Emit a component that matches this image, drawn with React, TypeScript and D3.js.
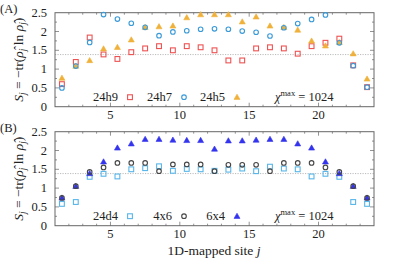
import React from 'react';
import * as d3 from "d3";

// sites sit at half-integer positions along the 1D map
const siteX = [1.5, 2.5, 3.5, 4.5, 5.5, 6.5, 7.5, 8.5, 9.5, 10.5, 11.5, 12.5, 13.5, 14.5, 15.5, 16.5, 17.5, 18.5, 19.5, 20.5, 21.5, 22.5, 23.5];

// panel A
const h9 = [0.60, 1.19, 1.84, 1.39, 1.27, 1.45, 1.55, 1.61, 1.50, 1.61, 1.58, 1.50, 1.23, 1.23, 1.55, 1.58, 1.55, 1.41, 1.61, 1.70, 1.81, 1.10, 0.52];
const h7 = [0.50, 1.08, 1.71, 2.45, 2.33, 2.22, 2.11, 1.89, 1.99, 2.02, 2.06, 2.07, 2.06, 2.01, 1.98, 1.88, 2.10, 2.21, 2.32, 2.44, 1.70, 1.09, 0.52];
const h5 = [0.76, 1.08, 1.23, 1.54, 1.58, 1.78, 2.11, 2.13, 2.15, 2.37, 2.45, 2.45, 2.45, 2.26, 2.39, 2.15, 2.11, 2.04, 1.75, 1.62, 1.71, 1.41, 0.74];

// panel B
const d4 = [0.58, 0.63, 1.30, 1.38, 1.31, 1.50, 1.53, 1.58, 1.46, 1.51, 1.50, 1.46, 1.49, 1.52, 1.45, 1.57, 1.52, 1.50, 1.31, 1.38, 1.30, 0.63, 0.58];
const g4x6 = [0.74, 1.05, 1.43, 1.55, 1.67, 1.67, 1.67, 1.45, 1.63, 1.63, 1.63, 1.45, 1.62, 1.62, 1.62, 1.45, 1.67, 1.67, 1.67, 1.55, 1.43, 1.05, 0.74];
const g6x4 = [0.74, 1.05, 1.39, 1.70, 2.07, 2.18, 2.30, 2.30, 2.28, 2.27, 2.27, 2.04, 2.26, 2.26, 2.28, 2.30, 2.30, 2.18, 2.07, 1.70, 1.39, 1.05, 0.74];

const xTicks = [5, 10, 15, 20];
const yTicks = [0, 0.5, 1, 1.5, 2, 2.5];
const refLine = Math.log(4);

const font = "'Liberation Serif', 'DejaVu Serif', serif";

type Shape = "square" | "circle" | "triangle";
interface Series { label: string; values: number[]; shape: Shape; color: string; filled: boolean }

const seriesA: Series[] = [
    { label: "24h9", values: h9, shape: "square", color: "#ee5252", filled: false },
    { label: "24h7", values: h7, shape: "circle", color: "#3a9ad8", filled: false },
    { label: "24h5", values: h5, shape: "triangle", color: "#f0b13a", filled: true },
];
const seriesB: Series[] = [
    { label: "24d4", values: d4, shape: "square", color: "#58b6ea", filled: false },
    { label: "4x6", values: g4x6, shape: "circle", color: "#454545", filled: false },
    { label: "6x4", values: g6x4, shape: "triangle", color: "#3434ee", filled: true },
];

const drawOrder: Shape[] = ["square", "triangle", "circle"];

const x = d3.scaleLinear().domain([1, 24]).range([55, 374]);

const Marker = ({ cx, cy, s }: { cx: number; cy: number; s: Series }) => {
    const fill = s.filled ? s.color : "none";
    if (s.shape === "square") {
        return <rect x={cx - 2.4} y={cy - 2.4} width={4.8} height={4.8} fill="none" stroke={s.color} strokeWidth={1.1} />;
    }
    if (s.shape === "circle") {
        return <circle cx={cx} cy={cy} r={2.3} fill="none" stroke={s.color} strokeWidth={1.1} />;
    }
    return <path d={`M${cx},${cy - 3} L${cx + 3},${cy + 2.2} L${cx - 3},${cy + 2.2} Z`} fill={fill} stroke={s.color} strokeWidth={0.6} />;
};

const Panel = ({ top, tag, series }: { top: number; tag: string; series: Series[] }) => {
    const y = d3.scaleLinear().domain([0, 2.5]).range([top + 94, top]);
    const [x0, x1] = x.range();
    const [yb, yt] = y.range();
    const minorX = d3.range(2, 24);
    const minorY = d3.range(0.25, 2.5, 0.25);
    const legendY = yb - 9.5;
    const markerX = [130, 184, 237];
    const midY = (yb + yt) / 2;

    return (
        <g>
            <text x={0} y={top + 0} fontFamily={font} fontSize={12.5} fill="#222">{tag}</text>
            <text transform={`translate(23,${midY}) rotate(-90)`} textAnchor="middle" fontFamily={font} fontSize={13.5} fill="#222">
                <tspan fontStyle="italic">S</tspan>
                <tspan fontStyle="italic" fontSize={9.5} dy={2.5}>j</tspan>
                <tspan dy={-2.5}> = −tr(</tspan>
                <tspan fontStyle="italic">ρ̂</tspan>
                <tspan fontStyle="italic" fontSize={9.5} dy={2.5}>j</tspan>
                <tspan dy={-2.5}> ln </tspan>
                <tspan fontStyle="italic">ρ̂</tspan>
                <tspan fontStyle="italic" fontSize={9.5} dy={2.5}>j</tspan>
                <tspan dy={-2.5}>)</tspan>
            </text>

            <line x1={x0} x2={x1} y1={y(refLine)} y2={y(refLine)} stroke="#aaa" strokeWidth={0.8} strokeDasharray="1.2,1.3" />

            {/* ticks on all four sides, pointing in */}
            <g stroke="#777" strokeWidth={0.8}>
                {minorX.map(v => (
                    <g key={"mx" + v}>
                        <line x1={x(v)} x2={x(v)} y1={yb} y2={yb - (v % 5 === 0 ? 4 : 2)} />
                        <line x1={x(v)} x2={x(v)} y1={yt} y2={yt + (v % 5 === 0 ? 4 : 2)} />
                    </g>
                ))}
                {minorY.map(v => (
                    <g key={"my" + v}>
                        <line x1={x0} x2={x0 + (v % 0.5 === 0 ? 4 : 2)} y1={y(v)} y2={y(v)} />
                        <line x1={x1} x2={x1 - (v % 0.5 === 0 ? 4 : 2)} y1={y(v)} y2={y(v)} />
                    </g>
                ))}
            </g>
            <rect x={x0} y={yt} width={x1 - x0} height={yb - yt} fill="none" stroke="#666" strokeWidth={1} />

            {xTicks.map(v => (
                <text key={"xt" + v} x={x(v)} y={yb + 12} textAnchor="middle" fontFamily={font} fontSize={12.5} fill="#222">{v}</text>
            ))}
            {yTicks.map(v => (
                <text key={"yt" + v} x={47} y={y(v) + 4} textAnchor="end" fontFamily={font} fontSize={12.5} fill="#222">{v}</text>
            ))}

            {drawOrder.map(shape => series.filter(s => s.shape === shape).map(s => (
                <g key={s.label}>
                    {s.values.map((v, i) => <Marker key={i} cx={x(siteX[i])} cy={y(v)} s={s} />)}
                </g>
            )))}

            {series.map((s, i) => (
                <g key={"lg" + s.label}>
                    <text x={markerX[i] - 12} y={legendY + 4} textAnchor="end" fontFamily={font} fontSize={12.5} fill="#222">{s.label}</text>
                    <Marker cx={markerX[i]} cy={legendY} s={s} />
                </g>
            ))}
            <text x={275} y={legendY + 4} fontFamily={font} fontSize={12.5} fill="#222">
                <tspan fontStyle="italic">χ</tspan>
                <tspan fontSize={8.5} dy={-5}>max</tspan>
                <tspan dy={5}> = 1024</tspan>
            </text>
        </g>
    );
};

const App = () => {
    return (
        <svg width={397} height={265} style={{ position: "absolute", left: 0, top: 0, background: "#fff" }}>
            <Panel top={12.7} tag="(A)" series={seriesA} />
            <Panel top={131.7} tag="(B)" series={seriesB} />
            <text x={214} y={255} textAnchor="middle" fontFamily={font} fontSize={13.5} fill="#222">
                1D-mapped site <tspan fontStyle="italic">j</tspan>
            </text>
        </svg>
    );
};

export default App;
